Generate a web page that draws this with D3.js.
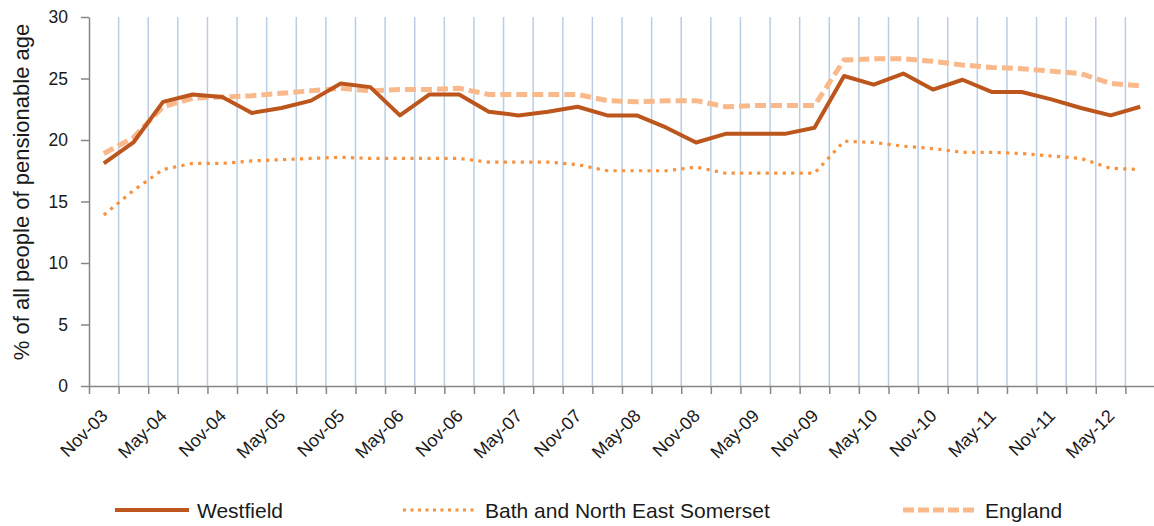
<!DOCTYPE html>
<html>
<head>
<meta charset="utf-8">
<script src="https://cdn.jsdelivr.net/npm/d3@7"></script>
<style>
  body { margin: 0; background: #fff; }
  text { font-family: "Liberation Sans", Arial, sans-serif; fill: #1a1a1a; }
</style>
</head>
<body>
<div id="chart"></div>
<script>
// quarterly categories
var categories = ["Nov-03","Feb-04","May-04","Aug-04","Nov-04","Feb-05","May-05","Aug-05",
  "Nov-05","Feb-06","May-06","Aug-06","Nov-06","Feb-07","May-07","Aug-07",
  "Nov-07","Feb-08","May-08","Aug-08","Nov-08","Feb-09","May-09","Aug-09",
  "Nov-09","Feb-10","May-10","Aug-10","Nov-10","Feb-11","May-11","Aug-11",
  "Nov-11","Feb-12","May-12","Aug-12"];

var westfield = [18.1, 19.8, 23.1, 23.7, 23.5, 22.2, 22.6, 23.2, 24.6, 24.3, 22.0, 23.7,
  23.7, 22.3, 22.0, 22.3, 22.7, 22.0, 22.0, 21.0, 19.8, 20.5, 20.5, 20.5,
  21.0, 25.2, 24.5, 25.4, 24.1, 24.9, 23.9, 23.9, 23.3, 22.6, 22.0, 22.7];

var bath = [13.9, 15.9, 17.6, 18.1, 18.1, 18.3, 18.4, 18.5, 18.6, 18.5, 18.5, 18.5,
  18.5, 18.2, 18.2, 18.2, 18.0, 17.5, 17.5, 17.5, 17.8, 17.3, 17.3, 17.3,
  17.3, 19.9, 19.8, 19.5, 19.3, 19.0, 19.0, 18.9, 18.7, 18.5, 17.7, 17.6];

var england = [18.9, 20.2, 22.7, 23.4, 23.5, 23.6, 23.8, 24.0, 24.2, 24.0, 24.1, 24.1,
  24.2, 23.7, 23.7, 23.7, 23.7, 23.2, 23.1, 23.2, 23.2, 22.7, 22.8, 22.8,
  22.8, 26.5, 26.6, 26.6, 26.4, 26.1, 25.9, 25.8, 25.6, 25.4, 24.6, 24.4];

var yTicks = [0, 5, 10, 15, 20, 25, 30];

var seriesNames = ["Westfield", "Bath and North East Somerset", "England"];

var svgWidth = 1154;
var svgHeight = 526;

// plot area edges
var plotLeft = 89, plotRight = 1155, plotTop = 17, plotBottom = 386;

var svg = d3.select("#chart")
  .append("svg")
  .attr("width", svgWidth)
  .attr("height", svgHeight);

// band scale for the points, linear index scale for boundaries
var xBand = d3.scaleBand().domain(categories).range([plotLeft, plotRight]).padding(0);
var xIdx = d3.scaleLinear().domain([0, categories.length]).range([plotLeft, plotRight]);
var y = d3.scaleLinear().domain([0, 30]).range([plotBottom, plotTop]);

// vertical gridlines at category boundaries
svg.append("g")
  .selectAll("line")
  .data(d3.range(1, categories.length))
  .enter()
  .append("line")
  .attr("x1", d => xIdx(d)).attr("x2", d => xIdx(d))
  .attr("y1", y(30)).attr("y2", y(0))
  .attr("stroke", "#b9cde5")
  .attr("stroke-width", 1.5);

// y axis
var yAxis = svg.append("g")
  .attr("transform", `translate(${plotLeft},0)`)
  .call(d3.axisLeft(y).tickValues(yTicks).tickSize(8).tickPadding(13).tickSizeOuter(0));
yAxis.select(".domain").attr("stroke", "#868686").attr("stroke-width", 1.5);
yAxis.selectAll(".tick line").attr("stroke", "#868686").attr("stroke-width", 1.5);
yAxis.selectAll(".tick text").attr("font-size", 17.5).attr("fill", "#1a1a1a")
  .style("font-family", "Liberation Sans, Arial, sans-serif");

// x axis: ticks at boundaries, no labels
var xAxis = svg.append("g")
  .attr("transform", `translate(0,${plotBottom})`)
  .call(d3.axisBottom(xIdx).tickValues(d3.range(0, categories.length + 1)).tickSize(8).tickFormat("").tickSizeOuter(0));
xAxis.select(".domain").attr("stroke", "#868686").attr("stroke-width", 1.5);
xAxis.selectAll(".tick line").attr("stroke", "#868686").attr("stroke-width", 1.5);

// rotated category labels, every other one
svg.append("g")
  .selectAll("text")
  .data(categories.filter((d, i) => i % 2 === 0))
  .enter()
  .append("text")
  .attr("transform", d => `translate(${xBand(d) + xBand.bandwidth() / 2 + 5},${plotBottom + 31}) rotate(-45)`)
  .attr("text-anchor", "end")
  .attr("font-size", 18)
  .text(d => d);

// y axis title
svg.append("text")
  .attr("transform", `translate(29,192) rotate(-90)`)
  .attr("text-anchor", "middle")
  .attr("font-size", 22)
  .text("% of all people of pensionable age");

var line = d3.line()
  .x((d, i) => xBand(categories[i]) + xBand.bandwidth() / 2)
  .y(d => y(d));

svg.append("path")
  .attr("d", line(england))
  .attr("fill", "none")
  .attr("stroke", "#fab98b")
  .attr("stroke-width", 5)
  .attr("stroke-dasharray", "11,5");

svg.append("path")
  .attr("d", line(bath))
  .attr("fill", "none")
  .attr("stroke", "#f7923f")
  .attr("stroke-width", 3.2)
  .attr("stroke-dasharray", "3.2,5.3");

svg.append("path")
  .attr("d", line(westfield))
  .attr("fill", "none")
  .attr("stroke", "#bd561d")
  .attr("stroke-width", 4)
  .attr("stroke-linejoin", "round");

// legend
var legend = [
  {name: seriesNames[0], x: 115, color: "#bd561d", w: 4, dash: null},
  {name: seriesNames[1], x: 403, color: "#f7923f", w: 3, dash: "3,4.5"},
  {name: seriesNames[2], x: 903, color: "#fab98b", w: 5, dash: "11,4"}
];
var lg = svg.append("g").selectAll("g").data(legend).enter().append("g")
  .attr("transform", d => `translate(${d.x},510)`);
lg.append("line")
  .attr("x1", 0).attr("x2", 74).attr("y1", 0).attr("y2", 0)
  .attr("stroke", d => d.color)
  .attr("stroke-width", d => d.w)
  .attr("stroke-dasharray", d => d.dash);
lg.append("text")
  .attr("x", 82).attr("y", 8)
  .attr("font-size", 21)
  .text(d => d.name);
</script>
</body>
</html>
